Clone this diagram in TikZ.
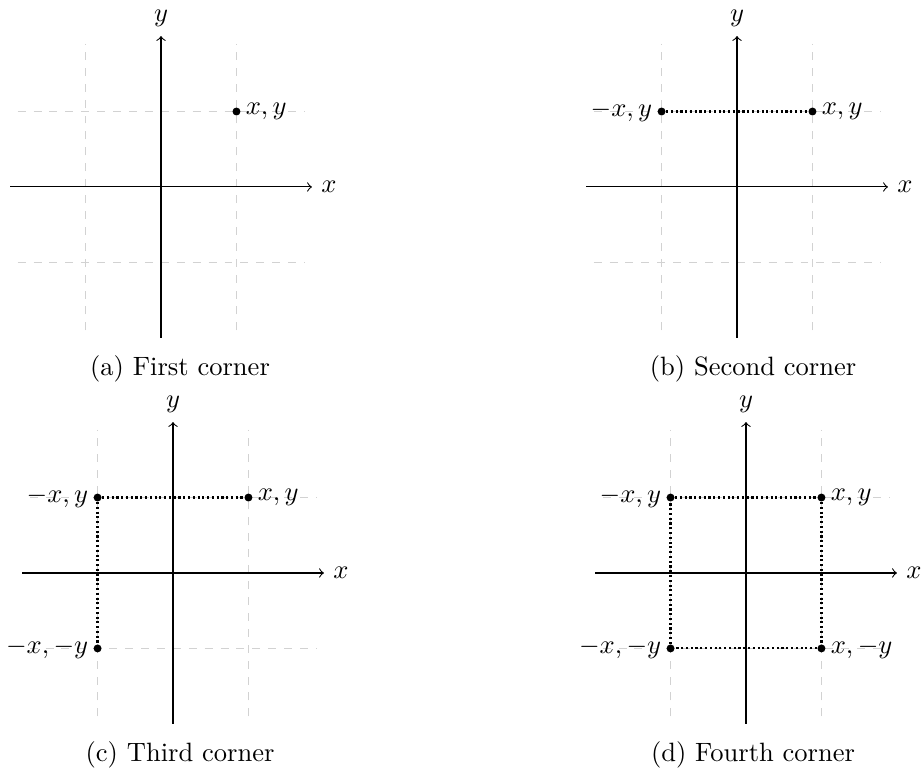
\documentclass[tikz,border=0pt]{standalone}
\usepackage{amsmath, amssymb}
\usepackage{xcolor}
\usepackage{tikz}
\usetikzlibrary{calc, positioning}

\begin{document}
\begin{tikzpicture}[
    gridline/.style={gray!35, dashed},
    axisline/.style={->},
    corner/.style={circle, fill=black, inner sep=0pt, minimum size=3pt},
    mirror/.style={thick, densely dotted}
]

    % =================================================================
    % 1. KHUNG HÌNH VÀ GỐC TỌA ĐỘ CỦA BỐN HÌNH CON
    % =================================================================
    \useasboundingbox (0,0) rectangle (12.233,10.245);

    \coordinate (OA) at (2.134,7.767);
    \coordinate (OB) at (9.768,7.767);
    \coordinate (OC) at (2.293,2.651);
    \coordinate (OD) at (9.887,2.651);

    % =================================================================
    % 2. LƯỚI NÉT ĐỨT VÀ HAI TRỤC TỌA ĐỘ
    % =================================================================
    \foreach \o in {OA, OB, OC, OD} {
        \begin{scope}[shift={(\o)}]
            % Lưới mờ tại các giá trị -1 và 1
            \foreach \t in {-1, 1} {
                \draw[gridline] (\t,-1.9) -- (\t,1.9);
                \draw[gridline] (-1.9,\t) -- (1.9,\t);
            }
            % Trục hoành và trục tung
            \draw[axisline] (-2,0) -- (2,0) node[right] (\o-x) {$x$};
            \draw[axisline] (0,-2) -- (0,2) node[above] (\o-y) {$y$};
        \end{scope}
    }

    % =================================================================
    % 3. CÁC ĐIỂM ĐỐI XỨNG VÀ ĐƯỜNG CHẤM NỐI
    % =================================================================
    % Hình (a): một điểm
    \begin{scope}[shift={(OA)}]
        \node[corner] (A1) at (1,1) {};
        \node[right] (A1l) at (A1.center) {$x,y$};
    \end{scope}

    % Hình (b): thêm điểm đối xứng qua trục tung
    \begin{scope}[shift={(OB)}]
        \node[corner] (B1) at (1,1) {};
        \node[corner] (B2) at (-1,1) {};
        \node[right] (B1l) at (B1.center) {$x,y$};
        \node[left] (B2l) at (B2.center) {$-x,y$};
        \draw[mirror] (B2) -- (B1);
    \end{scope}

    % Hình (c): thêm điểm đối xứng qua trục hoành
    \begin{scope}[shift={(OC)}]
        \node[corner] (C1) at (1,1) {};
        \node[corner] (C2) at (-1,1) {};
        \node[corner] (C3) at (-1,-1) {};
        \node[right] (C1l) at (C1.center) {$x,y$};
        \node[left] (C2l) at (C2.center) {$-x,y$};
        \node[left] (C3l) at (C3.center) {$-x,-y$};
        \draw[mirror] (C2) -- (C1);
        \draw[mirror] (C2) -- (C3);
    \end{scope}

    % Hình (d): đủ bốn góc của hình vuông
    \begin{scope}[shift={(OD)}]
        \node[corner] (D1) at (1,1) {};
        \node[corner] (D2) at (-1,1) {};
        \node[corner] (D3) at (-1,-1) {};
        \node[corner] (D4) at (1,-1) {};
        \node[right] (D1l) at (D1.center) {$x,y$};
        \node[left] (D2l) at (D2.center) {$-x,y$};
        \node[left] (D3l) at (D3.center) {$-x,-y$};
        \node[right] (D4l) at (D4.center) {$x,-y$};
        \draw[mirror] (D2) -- (D1) -- (D4) -- (D3) -- (D2);
    \end{scope}

    % =================================================================
    % 4. CHÚ THÍCH DƯỚI MỖI HÌNH
    % =================================================================
    \node (capA) at (2.386,5.36) {(a) First corner};
    \node (capB) at (9.98,5.36) {(b) Second corner};
    \node (capC) at (2.386,0.245) {(c) Third corner};
    \node (capD) at (9.98,0.245) {(d) Fourth corner};

\end{tikzpicture}
\end{document}
